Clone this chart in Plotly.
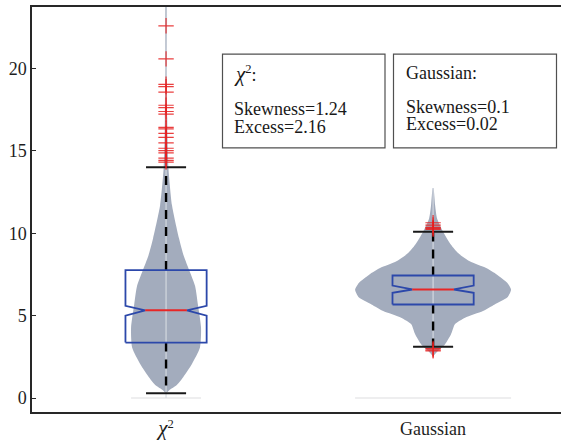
import plotly.graph_objects as go

# ---- data ----
categories = ["χ²", "Gaussian"]
tick_labels = ['<span style="font-size:21px"><i>χ</i></span><sup>2</sup>', "Gaussian"]
positions = [1, 2]

# box statistics: lower whisker, Q1, notch low, median, notch high, Q3, upper whisker
chi2_stats = [0.30, 3.37, 5.00, 5.33, 5.60, 7.77, 14.00]
gauss_stats = [3.11, 5.68, 6.39, 6.59, 6.83, 7.44, 10.10]

# outliers beyond the whiskers
chi2_outliers = [22.59, 20.58, 19.04, 18.90, 18.57, 17.77, 17.63, 17.39, 17.23,
                 16.43, 16.33, 16.06, 15.82, 15.48, 15.16, 15.02, 14.88, 14.56,
                 14.42, 14.32]
gauss_outliers = [10.64, 10.50, 10.36, 10.30, 10.24, 3.01, 2.93, 2.87]

# kernel density profiles (value levels, relative density)
chi2_levels = [0.30, 0.48, 0.76, 1.27, 2.07, 3.07, 4.28, 5.68, 6.80, 7.77, 8.60,
               9.70, 11.70, 13.90, 15.70, 17.00, 20.00, 24.50]
chi2_density = [0.0, 0.09, 0.29, 0.49, 0.74, 0.97, 1.00, 0.91, 0.83, 0.66, 0.51,
                0.37, 0.17, 0.07, 0.043, 0.034, 0.023, 0.009]
gauss_levels = [2.57, 2.87, 3.27, 3.87, 4.48, 4.88, 5.28, 5.68, 6.10, 6.58, 7.00,
                7.49, 7.89, 8.30, 8.80, 9.30, 10.10, 10.90, 11.70, 12.75]
gauss_density = [0.0, 0.064, 0.154, 0.23, 0.28, 0.41, 0.64, 0.79, 0.95, 1.00, 0.95,
                 0.82, 0.68, 0.47, 0.32, 0.23, 0.128, 0.051, 0.026, 0.004]
value_span = [[0.0, 24.6], [2.57, 12.75]]

stats_text = [
    ['<span style="font-size:21px"><i>χ</i></span><sup>2</sup>:', "Skewness=1.24", "Excess=2.16"],
    ["Gaussian:", "Skewness=0.1", "Excess=0.02"],
]

# ---- styling ----
W, H = 561, 440
ML, MT, MB = 32, 7, 25
XR = [0.498, 2.479]
YR = [-0.843, 23.73]
violin_half = [0.131, 0.292]
box_half = 0.152
notch_half = 0.078
cap_half = 0.075
VIOLIN = "rgb(163,172,189)"
BOXC = "rgb(44,72,170)"
MEDC = "rgb(232,38,38)"
FONT = "Liberation Serif"

fig = go.Figure()

profiles = [(chi2_levels, chi2_density), (gauss_levels, gauss_density)]
stats = [chi2_stats, gauss_stats]
outliers = [chi2_outliers, gauss_outliers]

for i, pos in enumerate(positions):
    lv, dens = profiles[i]
    hw = violin_half[i]
    xs = [pos + hw * d for d in dens] + [pos - hw * d for d in reversed(dens)]
    ys = list(lv) + list(reversed(lv))
    fig.add_trace(go.Scatter(x=xs, y=ys, mode="lines", fill="toself",
                             fillcolor=VIOLIN, line=dict(width=0, color=VIOLIN, shape="spline", smoothing=0.6),
                             hoverinfo="skip", showlegend=False))
    # extreme bar at the bottom and central bar
    fig.add_trace(go.Scatter(x=[pos - hw, pos + hw], y=[0, 0], mode="lines",
                             line=dict(color="rgb(232,232,234)", width=1.5),
                             hoverinfo="skip", showlegend=False))
    fig.add_trace(go.Scatter(x=[pos, pos], y=value_span[i], mode="lines",
                             line=dict(color="rgba(214,218,226,0.95)", width=1.2),
                             hoverinfo="skip", showlegend=False))

for i, pos in enumerate(positions):
    wlo, q1, nlo, med, nhi, q3, whi = stats[i]
    # whiskers
    for a, b in [(q3, whi), (q1, wlo)]:
        fig.add_trace(go.Scatter(x=[pos, pos], y=[a, b], mode="lines",
                                 line=dict(color="black", width=2.4, dash="9px,8px"),
                                 hoverinfo="skip", showlegend=False))
    # caps
    for v in (wlo, whi):
        fig.add_trace(go.Scatter(x=[pos - cap_half, pos + cap_half], y=[v, v], mode="lines",
                                 line=dict(color="rgb(25,25,25)", width=2),
                                 hoverinfo="skip", showlegend=False))
    # notched box
    bx = [pos - box_half, pos + box_half, pos + box_half, pos + notch_half, pos + box_half,
          pos + box_half, pos - box_half, pos - box_half, pos - notch_half, pos - box_half,
          pos - box_half]
    by = [q1, q1, nlo, med, nhi, q3, q3, nhi, med, nlo, q1]
    fig.add_trace(go.Scatter(x=bx, y=by, mode="lines", line=dict(color=BOXC, width=1.8),
                             hoverinfo="skip", showlegend=False))
    fig.add_trace(go.Scatter(x=[pos - notch_half, pos + notch_half], y=[med, med], mode="lines",
                             line=dict(color=MEDC, width=2),
                             hoverinfo="skip", showlegend=False))
    # outliers
    fig.add_trace(go.Scatter(x=[pos] * len(outliers[i]), y=outliers[i], mode="markers",
                             marker=dict(symbol="cross-thin", size=11,
                                         line=dict(color="rgba(230,30,30,0.85)", width=1.2)),
                             hoverinfo="skip", showlegend=False))

PW = W - ML
PH = H - MT - MB


def px(xp):
    return (xp - ML) / PW


def py(yp):
    return (H - MB - yp) / PH


# statistic boxes
boxes = [(222.5, 385.0), (393.5, 556.5)]
text_x = [231.5, 404.0]
text_y = [[75, 110, 128], [73, 107.5, 125]]
for i, (x0, x1) in enumerate(boxes):
    fig.add_shape(type="rect", xref="paper", yref="paper",
                  x0=px(x0), x1=px(x1), y0=py(149), y1=py(54.5),
                  line=dict(color="rgb(80,80,80)", width=1.2), fillcolor="white", layer="above")
    for j, t in enumerate(stats_text[i]):
        fig.add_annotation(xref="paper", yref="paper", x=px(text_x[i]), y=py(text_y[i][j]),
                           text=t, showarrow=False, xanchor="left", yanchor="middle",
                           font=dict(family=FONT, size=18, color="rgb(25,25,25)"))

fig.update_layout(
    width=W, height=H,
    margin=dict(l=ML, r=0, t=MT, b=MB),
    paper_bgcolor="white", plot_bgcolor="white",
    font=dict(family=FONT, size=18, color="rgb(30,30,30)"),
    xaxis=dict(range=XR, tickmode="array", tickvals=positions, ticktext=tick_labels,
               showgrid=False, zeroline=False, showline=True, mirror=True,
               linecolor="rgb(40,40,40)", linewidth=1.5, ticks="", fixedrange=True),
    yaxis=dict(range=YR, tickmode="array", tickvals=[0, 5, 10, 15, 20],
               showgrid=False, zeroline=False, showline=True, mirror=False,
               linecolor="rgb(40,40,40)", linewidth=1.5, ticks="inside", ticklen=4,
               tickcolor="rgb(40,40,40)", fixedrange=True),
)

fig.write_html("out.html")
